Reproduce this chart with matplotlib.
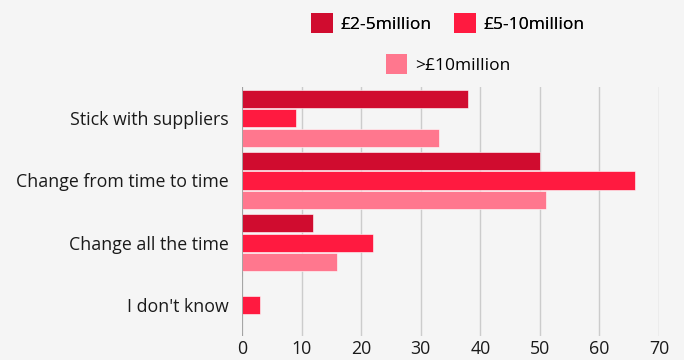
import matplotlib
matplotlib.use('Agg')
import matplotlib.pyplot as plt
from matplotlib.patches import Patch
import numpy as np

# survey answers, one row per category
categories = ['Stick with suppliers', 'Change from time to time',
              'Change all the time', "I don't know"]
series_names = ['£2-5million', '£5-10million', '>£10million']
small = [38, 50, 12, 0]
medium = [9, 66, 22, 3]
large = [33, 51, 16, 0]
colors = ['#d00c2f', '#ff1a40', '#ff778e']

plt.rcParams['font.family'] = ['Open Sans', 'DejaVu Sans']
bg = '#f5f5f5'

fig = plt.figure(figsize=(6.84, 3.6), dpi=100, facecolor=bg)
ax = fig.add_axes([0.3538, 0.0667, 0.9635 - 0.3538, 0.7578 - 0.0667])
ax.set_facecolor(bg)

y = np.arange(len(categories))
offsets = [-0.312, 0, 0.312]
for vals, off, c in zip([small, medium, large], offsets, colors):
    ax.barh(y + off, vals, height=0.29, color=c, edgecolor='#ffffff',
            linewidth=0.4, zorder=3)

ax.set_xlim(0, 70)
ax.set_ylim(3.5, -0.5)
ax.set_xticks(range(0, 71, 10))
ax.set_yticks(y)
ax.set_yticklabels(categories)
ax.tick_params(axis='both', length=0, labelsize=12.8, colors='#1a1a1a')
ax.tick_params(axis='y', pad=9.5)
ax.tick_params(axis='x', pad=3)
ax.grid(axis='x', color='#cccccc', linewidth=1, zorder=0)
ax.axvline(0, color='#999999', linewidth=1.2, zorder=4)
for s in ax.spines.values():
    s.set_visible(False)

# legend: two entries on the first row, the third one centred below
handles = [Patch(facecolor=c, edgecolor='none') for c in colors]
leg_kw = dict(frameon=False, fontsize=12.5, handlelength=1.25, handleheight=1.45,
              handletextpad=0.45, columnspacing=1.3, loc='center',
              borderpad=0, borderaxespad=0)
leg1 = fig.legend(handles[:2], series_names[:2], ncol=2,
                  bbox_to_anchor=(448 / 684, 1 - 23 / 360), **leg_kw)
leg2 = fig.legend(handles[2:], series_names[2:], ncol=1,
                  bbox_to_anchor=(448 / 684, 1 - 64 / 360), **leg_kw)
fig.add_artist(leg1)

fig.savefig('out.png', dpi=100, facecolor=bg)
